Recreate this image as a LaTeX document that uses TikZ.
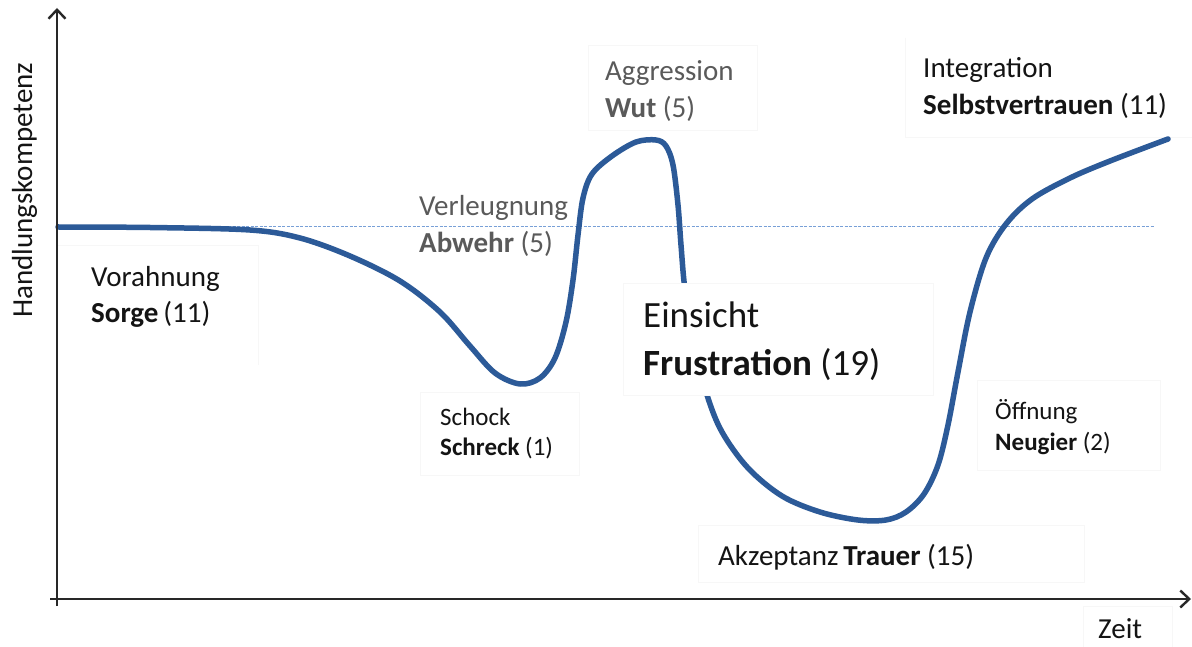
\documentclass[tikz,border=0pt]{standalone}
\usepackage{fontspec}
\setmainfont{Carlito}
\usetikzlibrary{arrows.meta}
\definecolor{curveblue}{RGB}{44,90,152}
\definecolor{refline}{RGB}{120,160,215}
\definecolor{axisgray}{RGB}{40,40,40}
\definecolor{darktext}{RGB}{20,20,20}
\definecolor{greytext}{RGB}{90,90,90}
\begin{document}
\begin{tikzpicture}[x=1pt,y=-1pt,
  lbl/.style={anchor=base west,inner sep=0pt,text=darktext,font=\fontsize{29}{35}\selectfont},
  glbl/.style={lbl,text=greytext},
  slbl/.style={lbl,font=\fontsize{25}{30}\selectfont},
  blbl/.style={lbl,font=\fontsize{37}{44}\selectfont},
  labelbox/.style={draw=black!3,line width=0.8pt,fill=white},
  axis/.style={draw=axisgray,line width=2.6pt,-{Straight Barb[length=9pt,width=17pt,line width=2.4pt]}},
  curve/.style={draw=curveblue,line width=5.5pt,line cap=round,line join=round},
  baseline line/.style={draw=refline,line width=0.9pt,dash pattern=on 3pt off 1.5pt}]
\useasboundingbox (0,0) rectangle (1192,647);
\fill[white] (0,0) rectangle (1192,647);

% faint label boxes (background)
\draw[labelbox] (57,245) -- (258,245) -- (258,365);
\draw[labelbox] (588,45) rectangle (757,130);
\draw[labelbox] (905,38) -- (905,137) -- (1192,137);
\draw[labelbox] (420,392) rectangle (579,475);
\draw[labelbox] (977,380) rectangle (1160,470);
\draw[labelbox] (698,525) rectangle (1084,582);
\draw[labelbox] (1083,606) rectangle (1172,647);

% reference (initial level) line
\coordinate (refL) at (57,226);
\coordinate (refR) at (1155,226);
\draw[baseline line] (refL) -- (refR);

% the curve
\draw[curve] plot[smooth,tension=0.55] coordinates {
 (58,227) (150,227.5) (250,230) (300,238) (350,256) (400,281) (440,312)
 (470,346) (495,373) (520,384) (540,378) (555,358) (566,322) (573,280)
 (578,235) (583,198) (592,174) (612,156) (636,142) (656,140) (666,146)
 (673,165) (678,205) (681,245) (685,290) (694,345) (707,395) (722,432)
 (748,468) (782,496) (820,512) (858,520) (886,520) (906,512) (924,494)
 (938,465) (948,425) (958,372) (970,312) (986,258) (1006,224) (1032,199)
 (1070,178) (1110,161) (1168,139)};

% box that hides the curve
\draw[labelbox] (623,283) rectangle (933,395);

% axes
\coordinate (yBot) at (57,606);
\coordinate (yTop) at (57,8);
\coordinate (xL) at (50,599);
\coordinate (xR) at (1191,599);
\draw[axis] (yBot) -- (yTop);
\draw[axis] (xL) -- (xR);

% labels
\node[lbl,rotate=90] (ylab) at (32,318) {Handlungskompetenz};
\node[lbl] (zeit) at (1098,638) {Zeit};

\node[lbl] (vor1) at (91,287) {Vorahnung};
\node[lbl] (vor2) at (91,323) {\textbf{Sorge}\,(11)};

\node[glbl] (ver1) at (419,216) {Verleugnung};
\node[glbl] (ver2) at (419,253) {\textbf{Abwehr} (5)};

\node[glbl] (agg1) at (605,81) {Aggression};
\node[glbl] (agg2) at (605,118) {\textbf{Wut} (5)};

\node[lbl] (int1) at (923,78) {Integration};
\node[lbl] (int2) at (923,115) {\textbf{Selbstvertrauen} (11)};

\node[slbl] (sch1) at (440,425) {Schock};
\node[slbl] (sch2) at (440,455) {\textbf{Schreck} (1)};

\node[slbl] (off1) at (995,419) {Öffnung};
\node[slbl] (off2) at (995,450) {\textbf{Neugier} (2)};

\node[blbl] (ein1) at (643,327) {Einsicht};
\node[blbl] (ein2) at (643,375) {\textbf{Frustration} (19)};

\node[lbl] (akz) at (718,565) {Akzeptanz\,\textbf{Trauer} (15)};
\end{tikzpicture}
\end{document}
